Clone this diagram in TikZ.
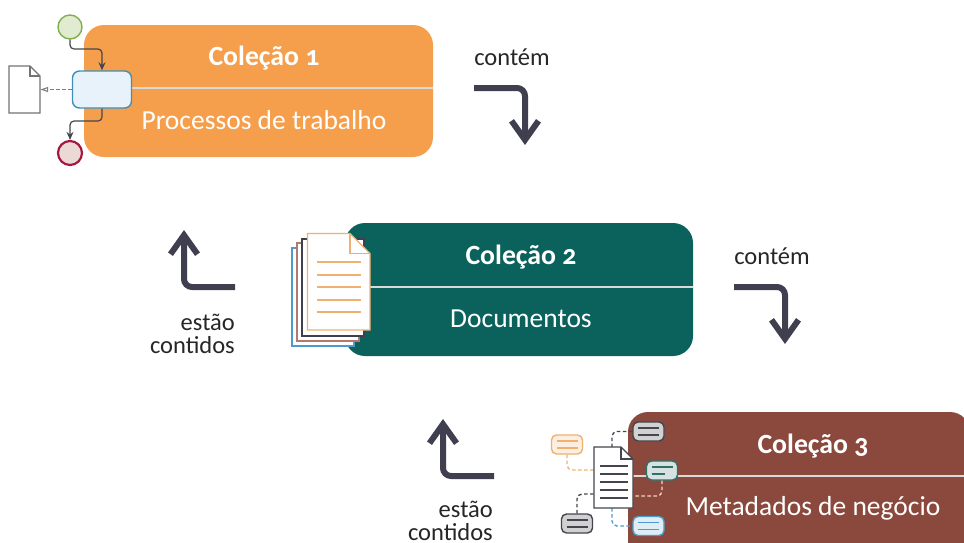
\documentclass[tikz,border=0pt]{standalone}
\usepackage{fontspec}
\setmainfont[Numbers=OldStyle]{Carlito}
\usetikzlibrary{arrows.meta}
\definecolor{cOrange}{HTML}{F59E4B}
\definecolor{cTeal}{HTML}{0B625C}
\definecolor{cBrown}{HTML}{8B483D}
\definecolor{cInk}{HTML}{3F3F50}
\definecolor{cGrey}{HTML}{45454F}
\definecolor{cPeach}{HTML}{F0B070}
\definecolor{cBlue}{HTML}{4D9BCB}
\definecolor{cGreen}{HTML}{2F7068}
\definecolor{cRust}{HTML}{B07A6E}
\definecolor{cStartLine}{HTML}{7FB04F}
\definecolor{cStartFill}{HTML}{E0EBCF}
\definecolor{cEndLine}{HTML}{A6193F}
\definecolor{cEndFill}{HTML}{EBD9D6}
\definecolor{cTaskFill}{HTML}{E8F2FB}
\definecolor{cTaskLine}{HTML}{3F8FB8}
\tikzset{
  card/.style={fill=#1,draw=none,rounded corners=20pt},
  divider/.style={draw=white!85!black,line width=1.2pt},
  cardtitle/.style={text=white,font=\fontsize{27.8}{28}\selectfont\bfseries,inner sep=0pt},
  cardsub/.style={text=white,font=\fontsize{27.5}{28}\selectfont,inner sep=0pt},
  bigarrow/.style={draw=cInk,line width=6pt,rounded corners=8pt,-{Straight Barb[length=19pt,width=27pt,line width=6pt]}},
  caption/.style={text=black!85,font=\fontsize{24.5}{23}\selectfont,inner sep=0pt},
  flow/.style={draw=cGrey,line width=1.2pt,rounded corners=4pt,-{Stealth[length=8pt,width=7pt]}},
  sheet/.style={draw=#1,fill=white,line width=1.4pt},
  textline/.style={draw=#1,line width=1.4pt},
  bubble/.style 2 args={draw=#1,fill=#2,line width=1.4pt,rounded corners=5pt,minimum width=31pt,minimum height=19pt,inner sep=0pt},
  link/.style={draw=#1,line width=1.3pt,dash pattern=on 3.5pt off 2.5pt,rounded corners=5pt},
}
\newcommand{\docshape}[6]{% x0 y0 x1 y1 fold style
  \path[#6] (#1,#2) -- ({#3-#5},#2) -- (#3,{#2+#5}) -- (#3,#4) -- (#1,#4) -- cycle;
  \draw[#6,fill=none] ({#3-#5},#2) -- ({#3-#5},{#2+#5}) -- (#3,{#2+#5});
}
\newcommand{\twolines}[3]{% node colour lengthfactor
  \draw[textline=#2] ([xshift=-10.5pt,yshift=3.5pt]#1.center) -- ([xshift=10.5pt,yshift=3.5pt]#1.center);
  \draw[textline=#2] ([xshift=-10.5pt,yshift=-3.5pt]#1.center) -- ([xshift=#3pt,yshift=-3.5pt]#1.center);
}
\begin{document}
\begin{tikzpicture}[x=1pt,y=-1pt]
\useasboundingbox (0,0) rectangle (964,542);
\clip (0,0) rectangle (964,542);

% Card 1
\fill[card=cOrange] (84,25) rectangle (433,157);
\draw[divider] (84,88) -- (433,88);
\node[cardtitle] (t1) at (264,58) {Coleção 1};
\node[cardsub] (s1) at (264,120) {Processos de trabalho};

% BPMN sketch
\node[circle,draw=cStartLine,fill=cStartFill,line width=1.4pt,minimum size=24pt,inner sep=0pt] (start) at (70,27) {};
\node[rectangle,rounded corners=7pt,draw=cTaskLine,fill=cTaskFill,line width=1.4pt,minimum width=59pt,minimum height=37pt,inner sep=0pt] (task) at (102,89.5) {};
\node[circle,draw=cEndLine,fill=cEndFill,line width=2.2pt,minimum size=24pt,inner sep=0pt] (end) at (70,153) {};
\node[minimum width=31pt,minimum height=47pt,inner sep=0pt] (bdoc) at (24.5,89.5) {};
\docshape{9}{66}{40}{113}{10}{sheet=black!55}
\draw[flow] (start.south) -- (70,49) -- (102,49) -- (task.north);
\draw[flow] (task.south) -- (102,121) -- (70,121) -- (end.north);
\draw[draw=cGrey!70,line width=1.1pt,dash pattern=on 3.5pt off 2.5pt,-{Triangle[open,length=8pt,width=5pt]}] (task.west) -- (bdoc.east);

% Arrow 1
\node[caption] (c1) at (512,57) {contém};
\coordinate (a1s) at (474,88);
\coordinate (a1c) at (525,88);
\coordinate (a1e) at (525,145);
\draw[bigarrow] (a1s) -- (a1c) -- (a1e);

% Card 2
\fill[card=cTeal] (345,223) rectangle (693,356);
\draw[divider] (345,287) -- (693,287);
\node[cardtitle] (t2) at (521,257) {Coleção 2};
\node[cardsub] (s2) at (521,319) {Documentos};

% Paper stack
\path[sheet=cBlue] (292,248) rectangle (354,346);
\path[sheet=cRust] (297,243) rectangle (359,341);
\path[sheet=cInk] (302,239) rectangle (364,336);
\docshape{307.5}{233.5}{370}{330}{20}{sheet=cPeach}
\foreach \yy in {262,275,287,300,312}{\draw[textline=cPeach] (317,\yy) -- (361,\yy);}

% Arrow 2 (up)
\coordinate (a2s) at (235,287);
\coordinate (a2c) at (184,287);
\coordinate (a2e) at (184,230);
\draw[bigarrow] (a2s) -- (a2c) -- (a2e);
\node[caption,align=right,anchor=north east] (c2) at (235,314) {estão\\contidos};

% Arrow 3
\node[caption] (c3) at (772,256) {contém};
\coordinate (a3s) at (734,287);
\coordinate (a3c) at (785,287);
\coordinate (a3e) at (785,344);
\draw[bigarrow] (a3s) -- (a3c) -- (a3e);

% Card 3
\fill[card=cBrown] (628,412) rectangle (970,600);
\draw[divider] (628,476) -- (964,476);
\node[cardtitle] (t3) at (813,446) {Coleção 3};
\node[cardsub] (s3) at (813,508) {Metadados de negócio};

% Metadata sketch
\node[minimum width=39pt,minimum height=61pt,inner sep=0pt] (mdoc) at (613.5,477.5) {};
\node[bubble={cGrey}{black!18}] (bTop) at (648.5,431.5) {};
\node[bubble={cPeach}{cPeach!20}] (bOr) at (567,444.5) {};
\node[bubble={cGreen}{cGreen!20}] (bGr) at (662,470.5) {};
\node[bubble={cGrey}{black!18}] (bLo) at (577,523.5) {};
\node[bubble={cBlue}{cBlue!18}] (bBl) at (648.5,526) {};
\draw[link=cGrey] (612,447) -- (612,431.5) -- (bTop.west);
\draw[link=cPeach] (bOr.south) -- (567,470) -- (594,470);
\draw[link=cPeach!50!white] (bGr.south) -- (662,496) -- (633,496);
\draw[link=cGrey] (bLo.north) -- (577,494) -- (594,494);
\draw[link=cBlue] (612,508) -- (612,526) -- (bBl.west);
\docshape{594}{447}{633}{508}{12}{sheet=cGrey}
\foreach \yy in {466,474,482,490,498}{\draw[textline=cGrey] (600,\yy) -- (628,\yy);}
\twolines{bTop}{cGrey}{10.5}
\twolines{bOr}{cPeach}{10.5}
\twolines{bGr}{cGreen}{3}
\twolines{bLo}{cGrey}{10.5}
\twolines{bBl}{cBlue}{10.5}

% Arrow 4 (up)
\coordinate (a4s) at (494,476);
\coordinate (a4c) at (443,476);
\coordinate (a4e) at (443,419);
\draw[bigarrow] (a4s) -- (a4c) -- (a4e);
\node[caption,align=right,anchor=north east] (c4) at (493,501) {estão\\contidos};
\end{tikzpicture}
\end{document}
